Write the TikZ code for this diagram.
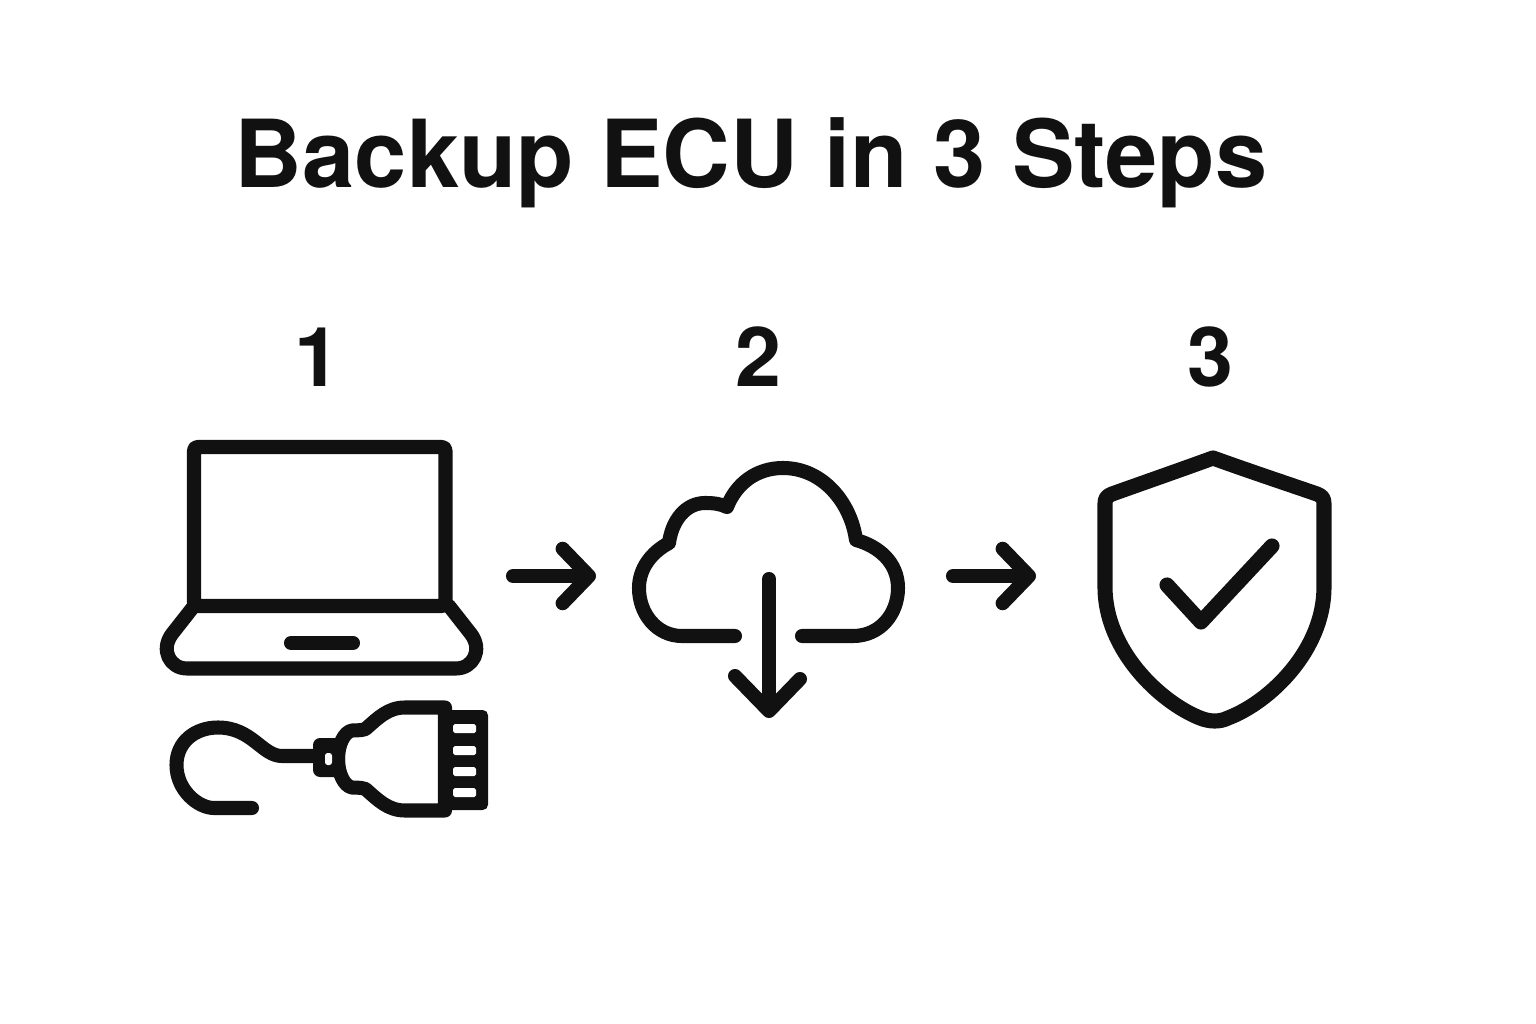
\documentclass[tikz,border=0pt]{standalone}
\usepackage{fontspec}
\setmainfont{TeX Gyre Heros}
\usetikzlibrary{arrows.meta}
\definecolor{inkblack}{HTML}{111111}
\tikzset{
	icon/.style={draw=inkblack, line width=8pt, line cap=round, line join=round},
	flowarrow/.style={icon, -{Straight Barb[length=15pt, width=31pt, round, line width=8pt]}},
	heading/.style={text=inkblack, anchor=base, font=\fontsize{53.4}{60}\selectfont\bfseries},
	stepnumber/.style={text=inkblack, anchor=base, font=\fontsize{47}{52}\selectfont\bfseries}
}
\begin{document}
\begin{tikzpicture}[x=0.02cm, y=-0.02cm]
		%%%%% START %%%%%
		\useasboundingbox (0, 0) rectangle (1536, 1024);
		
		\node[heading] (title) at (751, 188) {Backup ECU in 3 Steps};
		\node[stepnumber] (stepone) at (317, 386) {1};
		\node[stepnumber] (steptwo) at (758, 386) {2};
		\node[stepnumber] (stepthree) at (1210, 386) {3};
		
		% laptop
		\draw[icon, rounded corners=2pt] (194, 447) rectangle (445.5, 606);
		\draw[icon] (194, 606) -- (172, 634) .. controls (160, 650) and (170, 668.5) .. (187, 668.5) -- (456, 668.5) .. controls (473, 668.5) and (483, 650) .. (471, 634) -- (449, 606);
		\draw[icon] (291, 643) -- (353, 643);
		
		% cable
		\draw[icon] (252, 808) -- (214, 808) .. controls (198, 808) and (176.5, 790) .. (176.5, 765) .. controls (176.5, 742) and (195, 727.5) .. (218, 727.5) .. controls (252, 727.5) and (262, 756) .. (282, 756) -- (315, 756);
		\draw[icon] (445, 707.5) -- (405, 707.5) .. controls (388, 707.5) and (378, 718) .. (365.5, 729) .. controls (360, 731) and (355, 730) .. (352, 730.5) .. controls (344, 732) and (338, 745) .. (338, 759) .. controls (338, 773) and (344, 786) .. (352, 787.5) .. controls (355, 788) and (360, 787) .. (365.5, 789) .. controls (378, 800) and (388, 810.5) .. (405, 810.5) -- (445, 810.5) -- cycle;
		\draw[fill=inkblack, draw=none, rounded corners=4pt] (313, 738) rectangle (345, 777);
		\draw[fill=white, draw=none, rounded corners=1.5pt] (325, 753) rectangle (332, 765);
		\draw[fill=inkblack, draw=none, rounded corners=3pt] (445, 710) rectangle (488, 810);
		\foreach \holey in {724, 746, 767, 788}
			\draw[fill=white, draw=none, rounded corners=1pt] (453, \holey) rectangle (476, \holey+9);
		
		% cloud
		\draw[icon] (735, 636) -- (682, 636) .. controls (657, 636) and (639, 614) .. (639, 588) .. controls (639, 568) and (652, 552) .. (669, 543) .. controls (672, 520) and (686, 503) .. (705, 503) .. controls (714, 503) and (721, 504) .. (727, 507) .. controls (736, 484) and (756, 468) .. (783, 468) .. controls (823, 468) and (851, 503) .. (856, 540) .. controls (878, 546) and (898, 562) .. (898, 588) .. controls (898, 614) and (880, 636) .. (853, 636) -- (802, 636);
		\draw[icon] (769, 579) -- (769, 710);
		\draw[icon] (735, 676) -- (769, 711) -- (800, 679);
		
		% shield
		\draw[icon, line width=8.6pt] (1213, 458) .. controls (1180, 470) and (1140, 484) .. (1112, 494) .. controls (1107, 496) and (1105, 498) .. (1105, 504) -- (1105, 587) .. controls (1105, 650) and (1160, 702) .. (1200, 718) .. controls (1210, 722) and (1220, 722) .. (1228, 718) .. controls (1270, 702) and (1324, 650) .. (1324, 587) -- (1324, 504) .. controls (1324, 498) and (1322, 496) .. (1317, 494) .. controls (1288, 484) and (1246, 470) .. cycle;
		\draw[icon, line width=8.6pt] (1167, 585) -- (1201, 622) -- (1272, 546);
		
		% arrows
		\coordinate (laptopright) at (513, 576);
		\coordinate (cloudleft) at (596, 576);
		\coordinate (cloudright) at (953, 576);
		\coordinate (shieldleft) at (1036, 576);
		\draw[flowarrow] (laptopright) -- (cloudleft);
		\draw[flowarrow] (cloudright) -- (shieldleft);
		
		%%%%% END %%%%%
	\end{tikzpicture}
\end{document}
